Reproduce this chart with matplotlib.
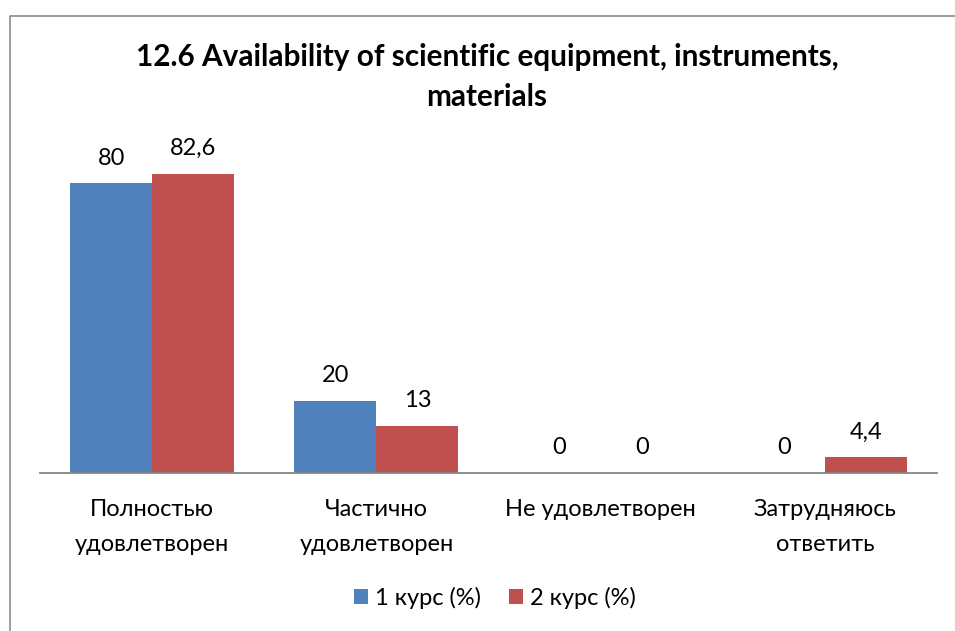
import matplotlib
matplotlib.use("Agg")
import matplotlib.pyplot as plt
from matplotlib.lines import Line2D

# ============ Data ============
categories = ["Полностью\nудовлетворен", "Частично\nудовлетворен", "Не удовлетворен", "Затрудняюсь\nответить"]
course1 = [80, 20, 0, 0]
course2 = [82.6, 13, 0, 4.4]
series_names = ["1 курс (%)", "2 курс (%)"]
labels1 = ["80", "20", "0", "0"]
labels2 = ["82,6", "13", "0", "4,4"]
title = "12.6 Availability of scientific equipment, instruments,\nmaterials"

plt.rcParams['font.family'] = ['Lato', 'DejaVu Sans']

W, H = 955, 631
fig = plt.figure(figsize=(W / 100, H / 100), dpi=100)

def px(x0, y0, x1, y1):
    # pixel box (top-left origin) -> figure fraction rect
    return [x0 / W, 1 - y1 / H, (x1 - x0) / W, (y1 - y0) / H]

# chart border, only left and top edges are inside the picture
bx, by = 9.5 / W, 1 - 15.5 / H
fig.add_artist(Line2D([bx, bx, 1.01], [-0.01, by, by], transform=fig.transFigure,
                      color="#8c8c8c", linewidth=1.2))

ax = fig.add_axes(px(40, 147, 937, 473))
x = range(len(categories))
bw = 0.366
blue, red = "#4F81BD", "#C0504D"
b1 = ax.bar([i - bw / 2 for i in x], course1, bw, color=blue, label=series_names[0])
b2 = ax.bar([i + bw / 2 for i in x], course2, bw, color=red, label=series_names[1])

for bars, labs in ((b1, labels1), (b2, labels2)):
    for bar, lab in zip(bars, labs):
        ax.annotate(lab, (bar.get_x() + bar.get_width() / 2, bar.get_height()),
                    xytext=(0, 18), textcoords="offset points",
                    ha="center", va="center", fontsize=17, color="#000000")

ax.set_xlim(-0.5, 3.5)
ax.set_ylim(0, 90)
ax.set_yticks([])
ax.set_xticks(list(x))
ax.set_xticklabels(categories, fontsize=17, linespacing=1.8)
ax.tick_params(axis="x", length=0, pad=19)
for s in ("top", "right", "left"):
    ax.spines[s].set_visible(False)
ax.spines["bottom"].set_color("#868686")
ax.spines["bottom"].set_linewidth(1.3)
ax.patch.set_alpha(0)

fig.text(487 / W, 1 - 77 / H, title, ha="center", va="center",
         fontsize=21.4, fontweight="bold", linespacing=1.55)

fig.legend(handles=[b1, b2], labels=series_names, loc="center",
           bbox_to_anchor=(495 / W, 1 - 598 / H), ncol=2, frameon=False,
           fontsize=17, handlelength=0.6, handleheight=0.6,
           handletextpad=0.3, columnspacing=1.2)

fig.savefig("out.png", dpi=100)
